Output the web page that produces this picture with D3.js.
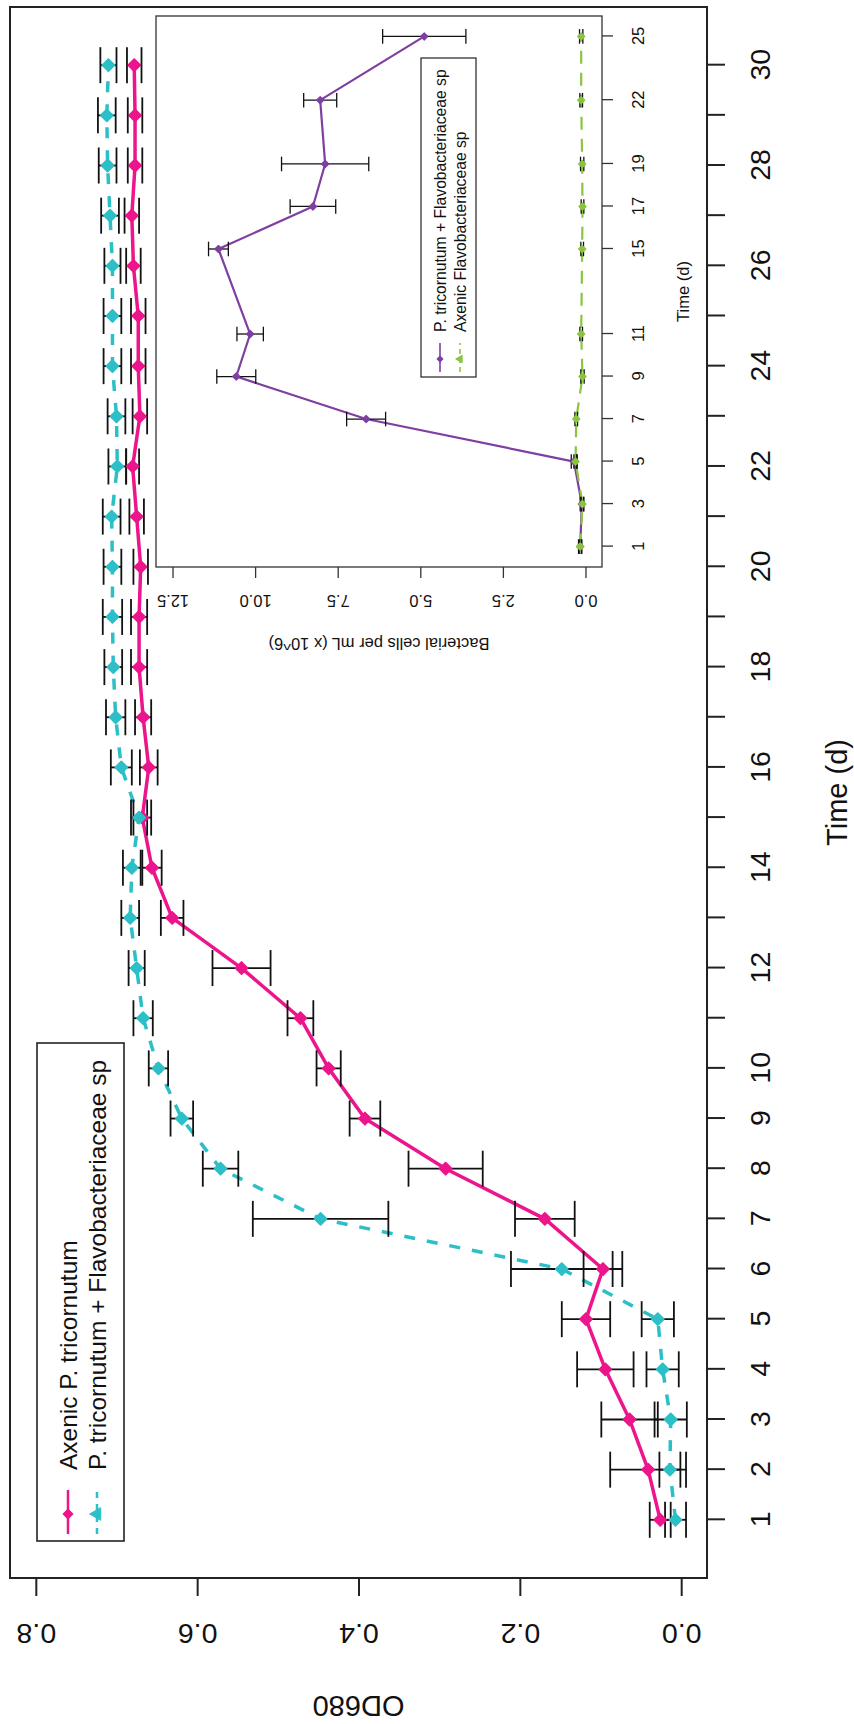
<!DOCTYPE html>
<html>
<head>
<meta charset="utf-8">
<script src="https://cdn.jsdelivr.net/npm/d3@7"></script>
<style>
  html, body { margin: 0; padding: 0; background: #fff; }
  svg { display: block; font-family: "Liberation Sans", Arial, Helvetica, sans-serif; }
</style>
</head>
<body>
<script>
// ---- Main panel: OD680 growth curves ----
const days = [1,2,3,4,5,6,7,8,9,10,11,12,13,14,15,16,17,18,19,20,21,22,23,24,25,26,27,28,29,30];
const dayLabels = [1,2,3,4,5,6,7,8,9,10,12,14,16,18,20,22,24,26,28,30];
const odTicks = [0.0, 0.2, 0.4, 0.6, 0.8];

const axenicOD = [0.026,0.041,0.064,0.094,0.118,0.097,0.169,0.292,0.392,0.437,
                  0.472,0.545,0.631,0.656,0.668,0.660,0.667,0.672,0.672,0.670,
                  0.675,0.680,0.671,0.673,0.673,0.679,0.681,0.677,0.677,0.678];
const axenicErr = [0.013,0.047,0.035,0.035,0.030,0.024,0.037,0.046,0.019,0.015,
                   0.016,0.036,0.014,0.012,0.011,0.011,0.010,0.010,0.010,0.009,
                   0.009,0.008,0.009,0.009,0.009,0.009,0.009,0.009,0.009,0.009];
const cocultureOD = [0.007,0.014,0.013,0.023,0.029,0.148,0.447,0.571,0.619,0.648,
                     0.667,0.675,0.683,0.681,0.672,0.694,0.701,0.704,0.705,0.705,
                     0.706,0.699,0.700,0.705,0.705,0.705,0.708,0.711,0.712,0.710];
const cocultureErr = [0.013,0.013,0.020,0.020,0.020,0.063,0.084,0.022,0.014,0.012,
                      0.012,0.010,0.011,0.011,0.010,0.013,0.012,0.011,0.012,0.011,
                      0.011,0.011,0.011,0.011,0.011,0.010,0.011,0.011,0.011,0.010];
const mainLegend = ["Axenic P. tricornutum", "P. tricornutum + Flavobacteriaceae sp"];

// ---- Inset: bacterial counts ----
const insetDays = [1,3,5,7,9,11,15,17,19,22,25];
const cellTicks = [0.0, 2.5, 5.0, 7.5, 10.0, 12.5];
const coCells = [0.16,0.11,0.35,6.64,10.57,10.15,11.11,8.25,7.88,8.03,4.88];
const coCellsErr = [0.05,0.05,0.08,0.59,0.59,0.40,0.30,0.69,1.32,0.50,1.26];
const flavoCells = [0.16,0.09,0.30,0.28,0.09,0.13,0.10,0.09,0.10,0.13,0.13];
const flavoCellsErr = [0.03,0.04,0.05,0.04,0.05,0.04,0.04,0.04,0.05,0.04,0.05];
const insetLegend = ["P. tricornutum + Flavobacteriaceae sp", "Axenic Flavobacteriaceae sp"];

const PINK = "#EC158B", CYAN = "#2CBFC7", PURPLE = "#7E3FA0", GREEN = "#8BC53F";
const INK = "#111";

const W = 854, H = 1724;
const svg = d3.select("body").append("svg").attr("width", W).attr("height", H);
svg.append("rect").attr("width", W).attr("height", H).attr("fill", "#fff");

// The figure is laid out landscape and turned a quarter turn on the page.
const g = svg.append("g").attr("transform", `translate(0,${H}) rotate(-90)`);

function pack(xs, ys, es) { return xs.map((d, i) => ({ day: d, v: ys[i], e: es[i] })); }

// ===== main panel =====
const x = d3.scaleLinear().domain([-0.16, 31.16]).range([146, 1717]);
const y = d3.scaleLinear().domain([-0.032, 0.832]).range([707, 10]);

const axG = g.append("g").attr("transform", "translate(0,707)")
  .call(d3.axisBottom(x).tickValues(days).tickSize(18)
    .tickFormat(d => dayLabels.includes(d) ? String(d) : ""));
axG.select(".domain").remove();
axG.selectAll("line").attr("stroke", "#222").attr("stroke-width", 2);
axG.selectAll("text").attr("y", 53).attr("dy", "0.36em")
  .attr("font-size", 28.5).attr("fill", INK).attr("font-family", null);

const ayG = g.append("g").attr("transform", "translate(146,0)")
  .call(d3.axisLeft(y).tickValues(odTicks).tickSize(18).tickFormat(d3.format(".1f")));
ayG.select(".domain").remove();
ayG.selectAll("line").attr("stroke", "#222").attr("stroke-width", 2);
ayG.selectAll("text").attr("x", null).attr("dy", null)
  .attr("transform", "translate(-56,0) rotate(-90)")
  .attr("text-anchor", "middle").attr("dominant-baseline", "central")
  .attr("font-size", 28.5).attr("fill", INK).attr("font-family", null);

g.append("rect").attr("x", 146).attr("y", 10).attr("width", 1717 - 146).attr("height", 707 - 10)
  .attr("fill", "none").attr("stroke", "#222").attr("stroke-width", 2);

g.append("text").attr("x", (146 + 1717) / 2).attr("y", 837)
  .attr("text-anchor", "middle").attr("dominant-baseline", "central")
  .attr("font-size", 29).attr("fill", INK).text("Time (d)");
g.append("text").attr("transform", `translate(18,${(10 + 707) / 2}) rotate(-90)`)
  .attr("text-anchor", "middle").attr("dominant-baseline", "central")
  .attr("font-size", 29).attr("fill", INK).text("OD680");

const mainSeries = [
  { data: pack(days, axenicOD, axenicErr), color: PINK, dash: null },
  { data: pack(days, cocultureOD, cocultureErr), color: CYAN, dash: "11,12" }
];
const lineMain = d3.line().x(d => x(d.day)).y(d => y(d.v));

function drawSeries(sx, sy, s, opts) {
  g.append("path").datum(s.data).attr("fill", "none").attr("stroke", s.color)
    .attr("stroke-width", opts.lw).attr("stroke-dasharray", s.dash)
    .attr("stroke-linejoin", "round")
    .attr("d", d3.line().x(d => sx(d.day)).y(d => sy(d.v)));
}
function drawErr(sx, sy, s, opts) {
  const eb = g.append("g").attr("stroke", INK).attr("stroke-width", opts.ew).attr("fill", "none");
  s.data.forEach(d => {
    const cx = sx(d.day), y0 = sy(d.v - d.e), y1 = sy(d.v + d.e);
    eb.append("line").attr("x1", cx).attr("x2", cx).attr("y1", y0).attr("y2", y1);
    eb.append("line").attr("x1", cx - opts.cap).attr("x2", cx + opts.cap).attr("y1", y0).attr("y2", y0);
    eb.append("line").attr("x1", cx - opts.cap).attr("x2", cx + opts.cap).attr("y1", y1).attr("y2", y1);
  });
}
function drawPts(sx, sy, s, opts) {
  const sym = d3.symbol(d3.symbolSquare, opts.area);
  g.append("g").selectAll("path").data(s.data).join("path")
    .attr("transform", d => `translate(${sx(d.day)},${sy(d.v)}) rotate(45)`)
    .attr("d", sym()).attr("fill", s.color).attr("stroke", s.color)
    .attr("stroke-width", opts.pw).attr("stroke-linejoin", "round");
}

const mainOpts = { lw: 3.5, ew: 1.8, cap: 18, area: 72, pw: 1.8 };
mainSeries.forEach(s => drawSeries(x, y, s, mainOpts));
mainSeries.forEach(s => drawErr(x, y, s, mainOpts));
mainSeries.forEach(s => drawPts(x, y, s, mainOpts));

// main legend
function legend(box, rows, opts) {
  g.append("rect").attr("x", box.x0).attr("y", box.y0)
    .attr("width", box.x1 - box.x0).attr("height", box.y1 - box.y0)
    .attr("fill", "#fff").attr("stroke", "#222").attr("stroke-width", opts.bw);
  rows.forEach(r => {
    g.append("line").attr("x1", opts.seg0).attr("x2", opts.seg1).attr("y1", r.y).attr("y2", r.y)
      .attr("stroke", r.color).attr("stroke-width", opts.lw).attr("stroke-dasharray", r.dash);
    const sym = r.shape === "tri"
      ? d3.symbol(d3.symbolTriangle, opts.triArea)
      : d3.symbol(d3.symbolSquare, opts.sqArea);
    g.append("path").attr("d", sym())
      .attr("transform", `translate(${opts.sym},${r.y})` + (r.shape === "tri" ? "" : " rotate(45)"))
      .attr("fill", r.color).attr("stroke", r.color).attr("stroke-width", 1).attr("stroke-linejoin", "round");
    g.append("text").attr("x", opts.text).attr("y", r.y)
      .attr("dominant-baseline", "central").attr("font-size", opts.fs).attr("fill", INK).text(r.label);
  });
}
legend({ x0: 183, x1: 681, y0: 37, y1: 124 }, [
  { y: 68, color: PINK, dash: null, shape: "sq", label: mainLegend[0] },
  { y: 97, color: CYAN, dash: "6,6", shape: "tri", label: mainLegend[1] }
], { bw: 1.6, seg0: 190, seg1: 234, sym: 210, text: 254, lw: 2.5, triArea: 70, sqArea: 50, fs: 24.5 });

// ===== inset panel =====
const xi = d3.scaleLinear().domain([0.04, 25.96]).range([1157, 1708]);
const yi = d3.scaleLinear().domain([-0.5, 13.0]).range([602, 156]);

g.append("rect").attr("x", 1157).attr("y", 156).attr("width", 1708 - 1157).attr("height", 602 - 156)
  .attr("fill", "#fff").attr("stroke", "none");

const ixG = g.append("g").attr("transform", "translate(0,602)")
  .call(d3.axisBottom(xi).tickValues(insetDays).tickSize(11).tickFormat(d => String(d)));
ixG.select(".domain").remove();
ixG.selectAll("line").attr("stroke", "#333").attr("stroke-width", 1.3);
ixG.selectAll("text").attr("y", 36).attr("dy", "0.36em")
  .attr("font-size", 16.5).attr("fill", INK).attr("font-family", null);

const iyG = g.append("g").attr("transform", "translate(1157,0)")
  .call(d3.axisLeft(yi).tickValues(cellTicks).tickSize(11).tickFormat(d3.format(".1f")));
iyG.select(".domain").remove();
iyG.selectAll("line").attr("stroke", "#333").attr("stroke-width", 1.3);
iyG.selectAll("text").attr("x", null).attr("dy", null)
  .attr("transform", "translate(-34,0) rotate(-90)")
  .attr("text-anchor", "middle").attr("dominant-baseline", "central")
  .attr("font-size", 16.5).attr("fill", INK).attr("font-family", null);

g.append("rect").attr("x", 1157).attr("y", 156).attr("width", 1708 - 1157).attr("height", 602 - 156)
  .attr("fill", "none").attr("stroke", "#333").attr("stroke-width", 1.3);

g.append("text").attr("x", (1157 + 1708) / 2).attr("y", 683)
  .attr("text-anchor", "middle").attr("dominant-baseline", "central")
  .attr("font-size", 16.5).attr("fill", INK).text("Time (d)");
g.append("text").attr("transform", `translate(1080,${(156 + 602) / 2}) rotate(-90)`)
  .attr("text-anchor", "middle").attr("dominant-baseline", "central")
  .attr("font-size", 16.5).attr("fill", INK).text("Bacterial cells per mL (x 10^6)");

const insetSeries = [
  { data: pack(insetDays, coCells, coCellsErr), color: PURPLE, dash: null },
  { data: pack(insetDays, flavoCells, flavoCellsErr), color: GREEN, dash: "13,9" }
];
const insetOpts = { lw: 2.2, ew: 1.3, cap: 7.3, area: 26, pw: 1.2 };
insetSeries.forEach(s => drawSeries(xi, yi, s, insetOpts));
insetSeries.forEach(s => drawErr(xi, yi, s, insetOpts));
insetSeries.forEach(s => drawPts(xi, yi, s, insetOpts));

legend({ x0: 1347, x1: 1666, y0: 421, y1: 476 }, [
  { y: 440, color: PURPLE, dash: null, shape: "sq", label: insetLegend[0] },
  { y: 460, color: GREEN, dash: "5,4", shape: "tri", label: insetLegend[1] }
], { bw: 1.2, seg0: 1352, seg1: 1381, sym: 1365, text: 1392, lw: 1.6, triArea: 24, sqArea: 18, fs: 15.7 });
</script>
</body>
</html>
